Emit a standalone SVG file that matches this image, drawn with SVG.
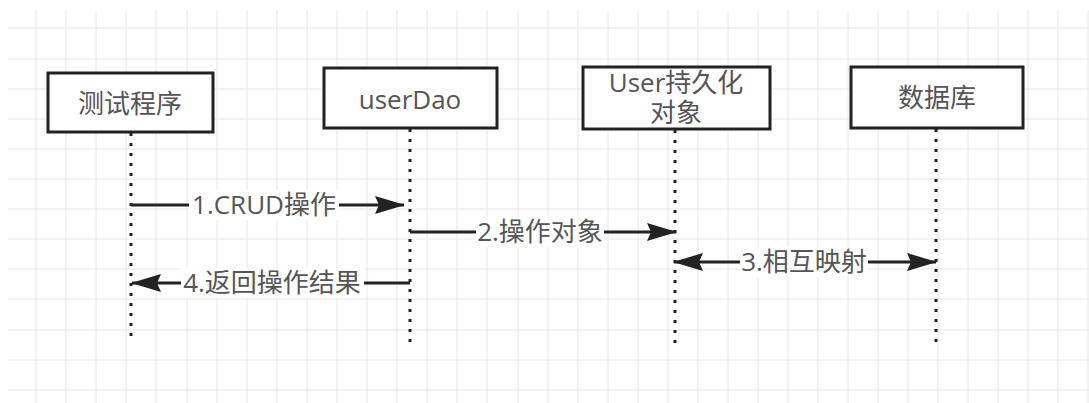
<svg xmlns="http://www.w3.org/2000/svg" width="1089" height="403" viewBox="0 0 1089 403">
  <style>
    .grid { fill: none; stroke: #e6e6e6; stroke-width: 1; }
    .box { fill: #ffffff; stroke: #222222; stroke-width: 3; }
    .label { font-family: "Open Sans", "Noto Sans CJK SC", sans-serif; font-size: 26px; fill: #555555; text-anchor: middle; }
    .life { fill: none; stroke: #222222; stroke-width: 3; stroke-dasharray: 3 7; }
    .msg { fill: none; stroke: #222222; stroke-width: 3; }
    .bg { fill: #ffffff; }
  </style>
  <defs>
    <marker id="head" viewBox="0 0 30 18" refX="29" refY="9" markerWidth="30" markerHeight="18" markerUnits="userSpaceOnUse" orient="auto-start-reverse">
      <path d="M0,0 L30,9 L0,18 L4,9 Z" fill="#222222"/>
    </marker>
  </defs>

  <rect width="1089" height="403" fill="#ffffff"/>

  <!-- background grid -->
  <path class="grid" d="M8 28H1089M8 59H1089M8 89H1089M8 119H1089M8 149H1089M8 179H1089M8 209H1089M8 239H1089M8 269H1089M8 299H1089M8 330H1089M8 360H1089M8 390H1089
    M36 10V403M66 10V403M96 10V403M126 10V403M156 10V403M187 10V403M217 10V403M247 10V403M277 10V403M307 10V403M337 10V403M367 10V403M397 10V403M427 10V403M457 10V403M487 10V403M518 10V403M548 10V403M578 10V403M608 10V403M638 10V403M668 10V403M698 10V403M728 10V403M758 10V403M788 10V403M818 10V403M848 10V403M878 10V403M908 10V403M938 10V403M968 10V403M998 10V403M1028 10V403M1058 10V403M1088 10V403"/>

  <!-- lifelines and messages -->
  <g id="connectors">
    <path class="life" d="M131 133V340"/>
    <path class="life" d="M410 129V343"/>
    <path class="life" d="M675 130V343"/>
    <path class="life" d="M936 129V343"/>

    <path class="msg" d="M131 205H404" marker-end="url(#head)"/>
    <path class="msg" d="M410 232H676" marker-end="url(#head)"/>
    <path class="msg" d="M674 262H936" marker-start="url(#head)" marker-end="url(#head)"/>
    <path class="msg" d="M410 283H132" marker-end="url(#head)"/>

    <rect class="bg" x="189" y="190" width="150" height="30"/>
    <text class="label" x="264" y="214">1.CRUD操作</text>
    <rect class="bg" x="476" y="217" width="128" height="30"/>
    <text class="label" x="540" y="241">2.操作对象</text>
    <rect class="bg" x="740" y="247" width="128" height="30"/>
    <text class="label" x="804" y="271">3.相互映射</text>
    <rect class="bg" x="181" y="268" width="183" height="30"/>
    <text class="label" x="272" y="292">4.返回操作结果</text>
  </g>

  <g id="test-program">
    <rect class="box" x="48" y="73" width="165" height="59"/>
    <text class="label" x="130" y="113">测试程序</text>
  </g>
  <g id="user-dao">
    <rect class="box" x="324" y="68" width="173" height="60"/>
    <text class="label" x="410" y="109">userDao</text>
  </g>
  <g id="user-entity">
    <rect class="box" x="583" y="67" width="187" height="62"/>
    <text class="label" x="676" y="92">User持久化</text>
    <text class="label" x="676" y="122">对象</text>
  </g>
  <g id="database">
    <rect class="box" x="851" y="67" width="172" height="61"/>
    <text class="label" x="937" y="107">数据库</text>
  </g>
</svg>
